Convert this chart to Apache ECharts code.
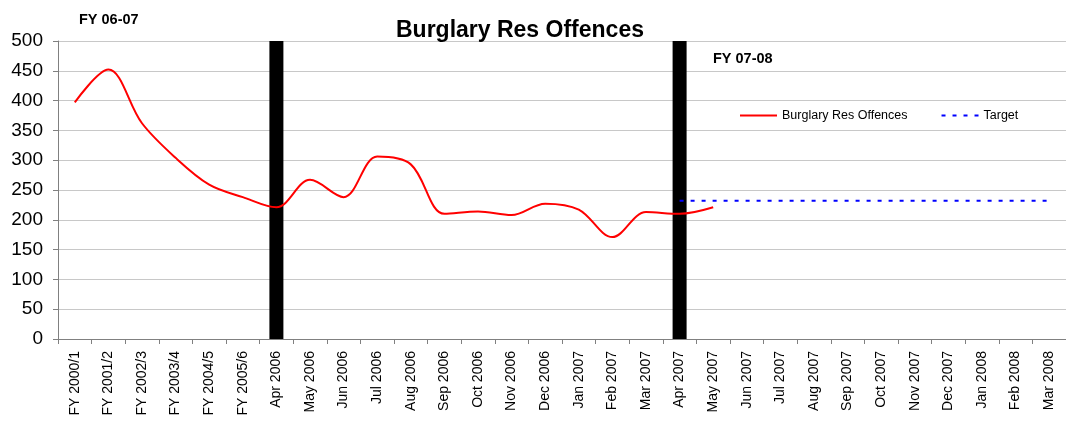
<!DOCTYPE html>
<html><head><meta charset="utf-8">
<script src="https://cdn.jsdelivr.net/npm/echarts@6/dist/echarts.min.js"></script>
<style>html,body{margin:0;padding:0;background:#fff}#c{width:1066px;height:426px}</style>
</head><body><div id="c"></div>
<script>
const categories = ['FY 2000/1','FY 2001/2','FY 2002/3','FY 2003/4','FY 2004/5','FY 2005/6',
 'Apr 2006','May 2006','Jun 2006','Jul 2006','Aug 2006','Sep 2006','Oct 2006','Nov 2006','Dec 2006','Jan 2007','Feb 2007','Mar 2007',
 'Apr 2007','May 2007','Jun 2007','Jul 2007','Aug 2007','Sep 2007','Oct 2007','Nov 2007','Dec 2007','Jan 2008','Feb 2008','Mar 2008'];
const offences = [397,452,362,304,259,238,221,267,238,306,293,210,214,208,227,217,171,213,210,221,
 null,null,null,null,null,null,null,null,null,null];
const target = [null,null,null,null,null,null,null,null,null,null,null,null,null,null,null,null,null,null,
 232,232,232,232,232,232,232,232,232,232,232,232];
const yearMarkers = [null,null,null,null,null,null,500,null,null,null,null,null,null,null,null,null,null,null,
 500,null,null,null,null,null,null,null,null,null,null,null];
const yTicks = {min:0, max:500, interval:50};

const chart = echarts.init(document.getElementById('c'), null, {renderer:'canvas'});
chart.setOption({
  animation:false,
  textStyle:{fontFamily:'Liberation Sans, Arial, sans-serif'},
  title:[
    {text:'Burglary Res Offences', left:391, top:14,
     textStyle:{fontSize:23, fontWeight:'bold', color:'#000', fontFamily:'Liberation Sans'}},
    {text:'FY 06-07', left:74, top:7, textStyle:{fontSize:14.5, fontWeight:'bold', color:'#000', fontFamily:'Liberation Sans'}},
    {text:'FY 07-08', left:708, top:46, textStyle:{fontSize:14.5, fontWeight:'bold', color:'#000', fontFamily:'Liberation Sans'}}
  ],
  legend:{left:734, top:104, itemWidth:37, itemHeight:14, itemGap:33,
    data:['Burglary Res Offences','Target'],
    itemStyle:{opacity:0},
    textStyle:{fontSize:12.5, color:'#000', fontFamily:'Liberation Sans'}},
  grid:{left:58, right:-3, top:41, bottom:87, containLabel:false},
  xAxis:{type:'category', data:categories, boundaryGap:true,
    axisLine:{lineStyle:{color:'#808080', width:1}},
    axisTick:{show:true, alignWithLabel:false, length:5, lineStyle:{color:'#808080'}},
    axisLabel:{rotate:90, fontSize:14, color:'#000', margin:12, interval:0, fontFamily:'Liberation Sans'},
    splitLine:{show:false}},
  yAxis:{type:'value', min:yTicks.min, max:yTicks.max, interval:yTicks.interval,
    axisLine:{show:true, lineStyle:{color:'#808080'}},
    axisTick:{show:true, length:5, lineStyle:{color:'#808080'}},
    axisLabel:{fontSize:19, color:'#000', margin:15, fontFamily:'Liberation Sans'},
    splitLine:{show:true, lineStyle:{color:'#c8c8c8', width:1}}},
  series:[
    {name:'Markers', type:'bar', data:yearMarkers, barWidth:14, barGap:'-100%',
     itemStyle:{color:'#000'}, silent:true},
    {name:'Burglary Res Offences', type:'line', data:offences, smooth:0.35, symbol:'none',
     lineStyle:{color:'#ff0000', width:2}, itemStyle:{color:'#ff0000'}, z:5},
    {name:'Target', type:'line', data:target, symbol:'none',
     lineStyle:{color:'#0000ff', width:2, type:[4,7]}, itemStyle:{color:'#0000ff'}, z:4}
  ]
});
</script></body></html>
